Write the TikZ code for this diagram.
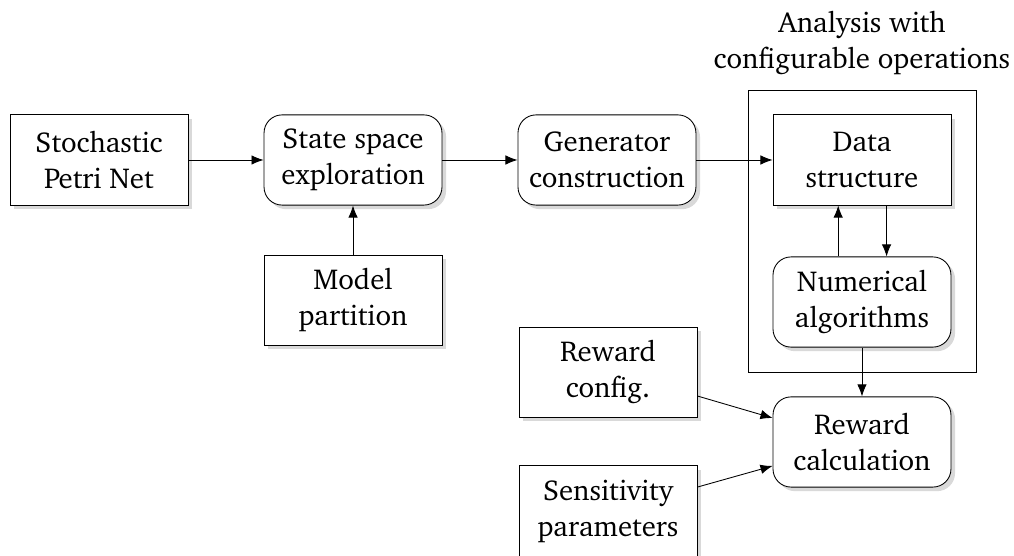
\documentclass[tikz,border=0pt]{standalone}
\usepackage[T1]{fontenc}
\usepackage{charter}
\usepackage{tikz}
\usetikzlibrary{shadows,arrows.meta}

\begin{document}
\begin{tikzpicture}[line width=0.3pt, >={Latex[length=4.2pt,width=3.3pt]},
    blk/.style={draw, fill=white, minimum width=2.17cm, minimum height=1.1cm, align=center,
        font=\linespread{1.05}\selectfont,
        drop shadow={shadow xshift=0.05cm, shadow yshift=-0.05cm, fill=black!15, opacity=1}},
    rblk/.style={blk, rounded corners=0.22cm}]
    \useasboundingbox (0,0) rectangle (12.366,-6.78);
    \draw (9.122,-1.098) rectangle (11.902,-4.537);
    \node[align=center, font=\linespread{1.05}\selectfont] (title) at (10.512,-0.52) {Analysis with\\configurable operations};

    \node[blk] (spn) at (1.207,-1.951) {Stochastic\\Petri Net};
    \node[rblk] (sse) at (4.305,-1.951) {State space\\exploration};
    \node[blk] (mp) at (4.305,-3.659) {Model\\partition};
    \node[rblk] (gen) at (7.402,-1.951) {Generator\\construction};
    \node[blk] (ds) at (10.512,-1.951) {Data\\structure};
    \node[rblk] (num) at (10.512,-3.683) {Numerical\\algorithms};
    \node[blk] (rconf) at (7.415,-4.537) {Reward\\config.};
    \node[rblk] (rcalc) at (10.512,-5.39) {Reward\\calculation};
    \node[blk] (sens) at (7.415,-6.232) {Sensitivity\\parameters};

    \draw[->] (spn) -- (sse);
    \draw[->] (mp) -- (sse);
    \draw[->] (sse) -- (gen);
    \draw[->] (gen) -- (ds);
    \draw[->] ([xshift=0.3cm]ds.south) -- ([xshift=0.3cm]num.north);
    \draw[->] ([xshift=-0.29cm]num.north) -- ([xshift=-0.29cm]ds.south);
    \draw[->] (num) -- (rcalc);
    \draw[->] (rconf.-15) -- (rcalc.165);
    \draw[->] (sens.15) -- (rcalc.195);
\end{tikzpicture}
\end{document}
